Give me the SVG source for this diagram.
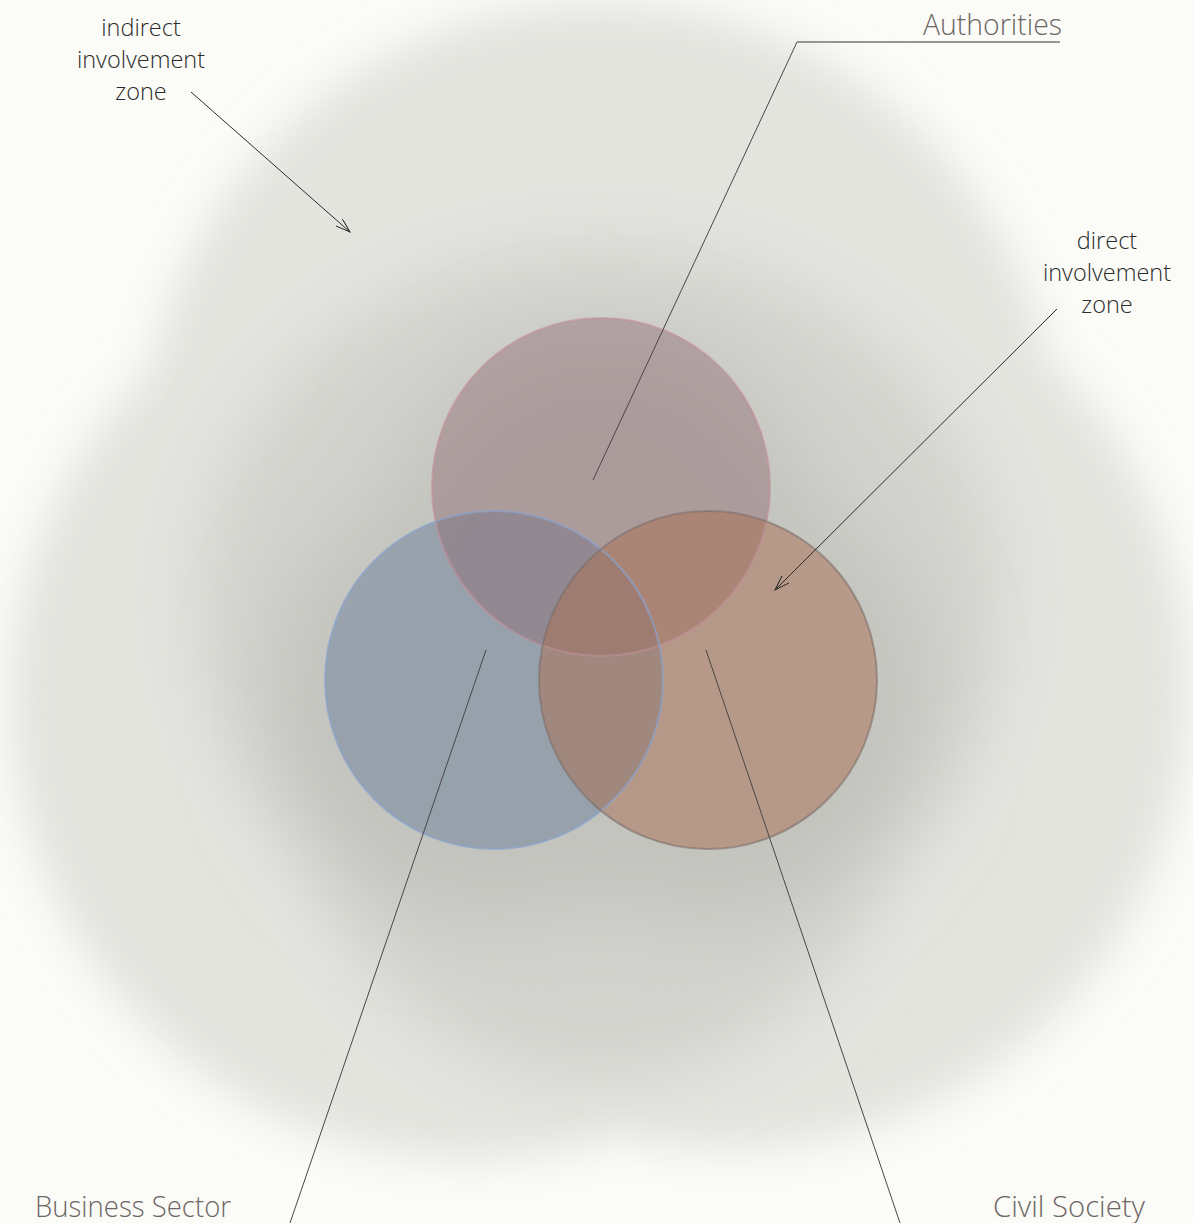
<svg xmlns="http://www.w3.org/2000/svg" width="1193" height="1223" viewBox="0 0 1193 1223">
<style>
.note{font-family:"Open Sans","Liberation Sans",sans-serif;font-weight:300;font-size:23.5px;fill:#2b2b2b;text-anchor:middle}
.label{font-family:"Open Sans","Liberation Sans",sans-serif;font-weight:300;font-size:29px;fill:#6e6666}
.lead{stroke:#4a4646;stroke-width:1;fill:none}
.arrow{stroke:#2a2a2a;stroke-width:1;fill:none;marker-end:url(#open)}
</style>
<defs>
<marker id="open" viewBox="0 0 16 10" refX="15" refY="5" markerWidth="16" markerHeight="10" markerUnits="userSpaceOnUse" orient="auto">
<path d="M0,0 L15,5 L0,10" fill="none" stroke="#2a2a2a" stroke-width="1"/>
</marker>
<filter id="b1" filterUnits="userSpaceOnUse" x="-100" y="-100" width="1400" height="1450"><feGaussianBlur stdDeviation="22"/></filter>
<filter id="b2" filterUnits="userSpaceOnUse" x="-100" y="-100" width="1400" height="1450"><feGaussianBlur stdDeviation="36"/></filter>
<filter id="b3" filterUnits="userSpaceOnUse" x="-100" y="-100" width="1400" height="1450"><feGaussianBlur stdDeviation="45"/></filter>
</defs>
<rect width="1193" height="1223" fill="#fbfcf7"/>
<g id="halo">
<g filter="url(#b1)" fill="#e4e4df">
<circle cx="601" cy="462" r="460"/>
<circle cx="470" cy="700" r="460"/>
<circle cx="730" cy="690" r="460"/>
</g>
<g filter="url(#b2)" fill="#d3d3ce">
<ellipse cx="600" cy="600" rx="400" ry="350"/>
<circle cx="600" cy="790" r="290"/>
</g>
<g filter="url(#b3)" fill="#c3c3be">
<circle cx="601" cy="560" r="220"/>
<circle cx="494" cy="700" r="220"/>
<circle cx="708" cy="700" r="220"/>
</g>
</g>
<g id="business">
<circle cx="494" cy="680" r="169" fill="#6e829b" fill-opacity="0.52"/>
</g>
<g id="authorities">
<circle cx="601" cy="487" r="169" fill="#8f6a72" fill-opacity="0.45"/>
</g>
<g id="civil">
<circle cx="708" cy="680" r="169" fill="#a97255" fill-opacity="0.52"/>
</g>
<g id="outlines" fill="none" stroke-width="2">
<circle cx="601" cy="487" r="169" stroke="#c28f9a" stroke-opacity="0.6"/>
<circle cx="494" cy="680" r="169" stroke="#8aa3cc" stroke-opacity="0.7"/>
<circle cx="708" cy="680" r="169" stroke="#7d6e6a" stroke-opacity="0.6"/>
</g>
<g id="connectors">
<polyline class="lead" points="593,480 797,42 1060,42" stroke="#555050"/>
<line x1="797" y1="42" x2="1060" y2="42" stroke="#8f8a8a" stroke-width="1.2"/>
<line class="lead" x1="486" y1="650" x2="290" y2="1223"/>
<line class="lead" x1="706" y1="650" x2="900" y2="1223"/>
<line class="arrow" x1="191" y1="92" x2="350" y2="232"/>
<line class="arrow" x1="1057" y1="309" x2="775" y2="590"/>
</g>
<g id="label-indirect">
<text class="note" x="141" y="36">indirect</text>
<text class="note" x="141" y="68">involvement</text>
<text class="note" x="141" y="100">zone</text>
</g>
<g id="label-direct">
<text class="note" x="1107" y="249">direct</text>
<text class="note" x="1107" y="281">involvement</text>
<text class="note" x="1107" y="313">zone</text>
</g>
<g id="label-authorities">
<text class="label" x="1062" y="35" text-anchor="end" textLength="139" lengthAdjust="spacingAndGlyphs">Authorities</text>
</g>
<g id="label-business">
<text class="label" x="35" y="1217" textLength="196" lengthAdjust="spacingAndGlyphs">Business Sector</text>
</g>
<g id="label-civil">
<text class="label" x="993" y="1217" textLength="152" lengthAdjust="spacingAndGlyphs">Civil Society</text>
</g>
</svg>
